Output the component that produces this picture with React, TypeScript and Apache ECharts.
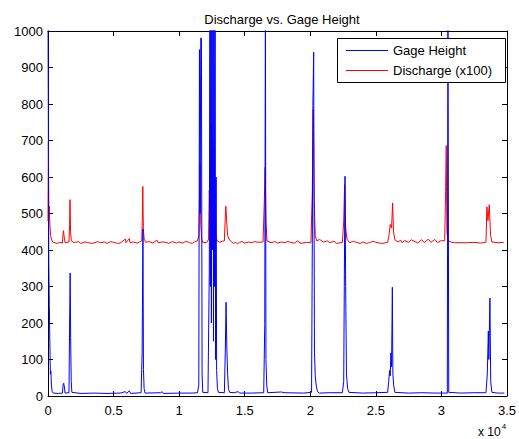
import React, { useEffect, useRef } from "react";
import * as echarts from "echarts";

const chartTitle = "Discharge vs. Gage Height";
const seriesNames = ["Gage Height", "Discharge (x100)"];
const seriesColors = ["#0000ff", "#ff0000"];
const xTickValues = [0, 5000, 10000, 15000, 20000, 25000, 30000, 35000];
const yTickValues = [0, 100, 200, 300, 400, 500, 600, 700, 800, 900, 1000];

// Gage Height samples: [sample index, value]
const gageHeight: [number, number][] = [
  [0, 1050], [30, 1050], [60, 360], [100, 250], [140, 150], [180, 60], [220, 68], [260, 30], [320, 12], [400, 8],
  [800, 7], [1100, 8], [1150, 30], [1200, 35], [1250, 25], [1300, 8], [1600, 9],
  [1650, 200], [1690, 337], [1730, 160], [1770, 40], [1820, 10],
  [2500, 7], [3500, 8], [4500, 7], [5500, 8], [5900, 12], [6000, 7], [6200, 14], [6300, 7],
  [7100, 9], [7180, 120], [7240, 457], [7280, 72], [7330, 20], [7400, 8],
  [8600, 9], [8700, 12], [8800, 7], [10000, 8], [11000, 8], [11400, 9],
  [11500, 30], [11550, 949], [11600, 500], [11650, 981], [11700, 980], [11750, 60], [11800, 10],
  [12200, 9], [12300, 340], [12350, 1100], [12380, 300], [12420, 1100], [12460, 200], [12500, 1100],
  [12540, 400], [12580, 1100], [12620, 150], [12660, 1100], [12700, 300], [12740, 1100], [12780, 100],
  [12820, 600], [12860, 70], [12920, 20], [13000, 10],
  [13450, 9], [13520, 120], [13580, 257], [13640, 127], [13700, 60], [13760, 20], [13850, 10],
  [14200, 9], [14500, 12], [14600, 8], [15500, 8], [16450, 9],
  [16530, 195], [16580, 1100], [16620, 100], [16680, 30], [16750, 9],
  [17800, 11], [18000, 9], [19500, 8], [20100, 10],
  [20150, 373], [20200, 795], [20260, 942], [20320, 120], [20380, 55], [20450, 30], [20550, 12], [20700, 8],
  [21500, 9], [22450, 9], [22550, 40], [22600, 332], [22650, 602], [22700, 300], [22760, 60], [22850, 20], [22950, 10],
  [24000, 8], [25000, 9], [25900, 10], [25980, 40], [26050, 70], [26100, 55], [26150, 118], [26200, 80],
  [26260, 298], [26300, 60], [26360, 30], [26450, 10],
  [27500, 8], [28500, 9], [29500, 8], [30450, 8], [30500, 1100], [30560, 10],
  [31500, 8], [32500, 9], [33400, 9], [33500, 60], [33580, 178], [33620, 100], [33700, 268], [33760, 40], [33850, 10],
  [34300, 8], [34800, 8],
];

// Discharge (x100) samples: [sample index, value]
const discharge: [number, number][] = [
  [0, 480], [30, 698], [60, 500], [100, 520], [140, 470], [200, 440], [260, 430], [350, 422],
  [500, 420], [700, 418], [900, 421], [1100, 419], [1150, 445], [1180, 453], [1220, 440], [1260, 430], [1300, 420],
  [1600, 422], [1650, 470], [1680, 538], [1720, 450], [1780, 425], [2000, 420], [2300, 423], [2500, 418],
  [2800, 422], [3000, 421], [3300, 418], [3500, 419], [3800, 423], [4000, 420], [4300, 422], [4500, 418],
  [4800, 423], [5000, 421], [5300, 418], [5500, 419], [5900, 430], [5950, 420], [6200, 431], [6260, 420],
  [6500, 422], [6800, 419], [7150, 425], [7190, 480], [7230, 574], [7270, 460], [7330, 430], [7450, 421],
  [7700, 423], [8000, 419], [8300, 427], [8400, 420], [8700, 422], [9000, 421], [9200, 418], [9500, 423],
  [9800, 419], [10000, 422], [10300, 419], [10500, 424], [10800, 420], [11000, 418], [11200, 423],
  [11400, 425], [11500, 440], [11560, 548], [11600, 636], [11650, 470], [11720, 430], [11800, 421],
  [12100, 420], [12250, 430], [12300, 564], [12360, 500], [12420, 745], [12480, 600], [12560, 700],
  [12620, 550], [12680, 679], [12740, 480], [12800, 440], [12900, 425], [13100, 421], [13300, 424],
  [13450, 425], [13520, 490], [13560, 520], [13620, 480], [13700, 440], [13800, 430], [14000, 422],
  [14150, 418], [14300, 421], [14450, 417], [14600, 421], [14800, 423], [15000, 419], [15300, 422],
  [15500, 420], [15800, 423], [16000, 421], [16400, 422], [16500, 540], [16560, 626], [16620, 480],
  [16700, 425], [17000, 420], [17300, 423], [17500, 419], [17800, 422], [18000, 420], [18300, 423],
  [18500, 421], [18800, 419], [19000, 425], [19300, 418], [19700, 421], [20050, 420], [20150, 548],
  [20230, 785], [20300, 540], [20380, 440], [20500, 425], [20700, 429], [21000, 422], [21300, 425],
  [21500, 420], [21800, 424], [22000, 418], [22450, 421], [22550, 480], [22620, 579], [22700, 460],
  [22800, 430], [23000, 420], [23300, 424], [23500, 421], [23800, 418], [24000, 422], [24300, 418],
  [24500, 420], [24800, 424], [25000, 421], [25300, 419], [25500, 418], [25900, 421], [26000, 440],
  [26100, 470], [26200, 460], [26280, 529], [26350, 450], [26450, 428], [26700, 422], [26900, 427],
  [27000, 420], [27200, 426], [27500, 421], [27700, 428], [28000, 423], [28200, 419], [28500, 428],
  [28700, 420], [29000, 430], [29200, 421], [29500, 429], [29700, 420], [30000, 426], [30250, 425],
  [30320, 560], [30370, 686], [30420, 450], [30500, 425], [30800, 421], [31000, 420], [31500, 420],
  [32000, 420], [32500, 421], [33000, 419], [33400, 421], [33470, 518], [33550, 480], [33650, 524],
  [33750, 440], [33850, 422], [34300, 420], [34750, 421],
];

const FONT = "'Liberation Sans', Arial, sans-serif";

export default function App() {
  const ref = useRef<HTMLDivElement>(null);

  useEffect(() => {
    if (!ref.current) return;
    const chart = echarts.init(ref.current, undefined, { renderer: "svg" });
    const xMin = xTickValues[0];
    const xMax = xTickValues[xTickValues.length - 1];
    const xInt = xTickValues[1] - xTickValues[0];
    const yMin = yTickValues[0];
    const yMax = yTickValues[yTickValues.length - 1];
    const yInt = yTickValues[1] - yTickValues[0];

    const axisBase = {
      axisLine: { show: true, onZero: false, lineStyle: { color: "#000", width: 1 } },
      axisTick: { show: true, inside: true, length: 5, lineStyle: { color: "#000", width: 1 } },
      splitLine: { show: false },
    };

    const legendEls: any[] = [
      {
        type: "rect",
        shape: { x: 337.5, y: 38.5, width: 168, height: 44 },
        style: { fill: "#fff", stroke: "#000", lineWidth: 1 },
        z: 100,
      },
    ];
    seriesNames.forEach((n, i) => {
      const y = 50.5 + i * 20;
      legendEls.push({
        type: "line",
        shape: { x1: 346, y1: y, x2: 388, y2: y },
        style: { stroke: seriesColors[i], lineWidth: 1 },
        z: 101,
      });
      legendEls.push({
        type: "text",
        x: 393,
        y: y,
        style: {
          text: n,
          fontFamily: FONT,
          fontSize: 13,
          fill: "#000",
          verticalAlign: "middle",
          align: "left",
        },
        z: 101,
      });
    });

    chart.setOption({
      animation: false,
      backgroundColor: "#fff",
      title: {
        text: chartTitle,
        left: 277,
        top: 8,
        textAlign: "center",
        textStyle: { fontFamily: FONT, fontSize: 13, fontWeight: "normal", color: "#000" },
      },
      grid: { left: 48, top: 31, width: 461, height: 365 },
      legend: { show: false, data: seriesNames },
      xAxis: [
        {
          ...axisBase,
          type: "value",
          position: "bottom",
          min: xMin,
          max: xMax,
          interval: xInt,
          axisLabel: {
            fontFamily: FONT,
            fontSize: 13,
            color: "#000",
            margin: 8,
            formatter: (v: number) => String(v / 10000),
          },
        },
        {
          ...axisBase,
          type: "value",
          position: "top",
          min: xMin,
          max: xMax,
          interval: xInt,
          axisLabel: { show: false },
        },
      ],
      yAxis: [
        {
          ...axisBase,
          type: "value",
          position: "left",
          min: yMin,
          max: yMax,
          interval: yInt,
          axisLabel: {
            fontFamily: FONT,
            fontSize: 13,
            color: "#000",
            margin: 5,
            formatter: (v: number) => String(v),
          },
        },
        {
          ...axisBase,
          type: "value",
          position: "right",
          min: yMin,
          max: yMax,
          interval: yInt,
          axisLabel: { show: false },
        },
      ],
      graphic: [
        ...legendEls,
        {
          type: "text",
          left: 478,
          top: 422,
          style: {
            text: "{a|x 10}{b|4}",
            rich: {
              a: { fontFamily: FONT, fontSize: 12, color: "#000", verticalAlign: "bottom", lineHeight: 16 },
              b: { fontFamily: FONT, fontSize: 8, color: "#000", verticalAlign: "top", lineHeight: 16, padding: [0, 0, 8, 1] },
            },
          },
        },
      ],
      series: [
        {
          name: seriesNames[1],
          type: "line",
          data: discharge,
          symbol: "none",
          showSymbol: false,
          clip: true,
          lineStyle: { color: seriesColors[1], width: 1 },
          itemStyle: { color: seriesColors[1] },
          z: 2,
        },
        {
          name: seriesNames[0],
          type: "line",
          data: gageHeight,
          symbol: "none",
          showSymbol: false,
          clip: true,
          lineStyle: { color: seriesColors[0], width: 1 },
          itemStyle: { color: seriesColors[0] },
          z: 3,
        },
      ],
    });
    return () => chart.dispose();
  }, []);

  return (
    <div
      ref={ref}
      style={{ position: "fixed", left: 0, top: 0, width: 519, height: 439, background: "#fff" }}
    />
  );
}
